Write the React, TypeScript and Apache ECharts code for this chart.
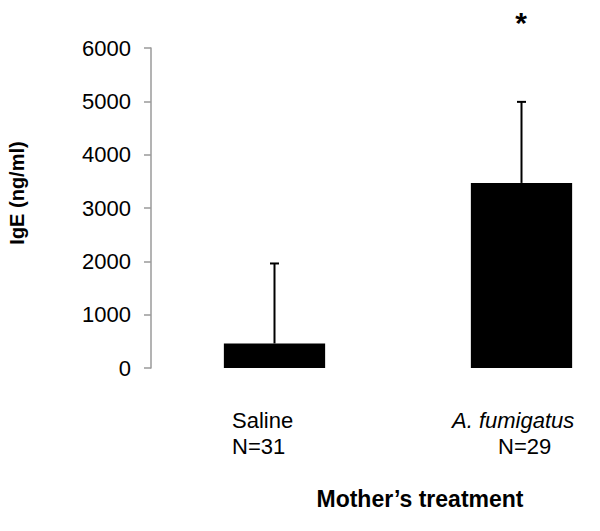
import React, { useEffect, useRef } from "react";
import * as echarts from "echarts";

const categories = ["Saline", "A. fumigatus"];
const groupSizes = ["N=31", "N=29"];
const means = [460, 3470];
const errorTops = [1960, 4990];
const yTicks = [0, 1000, 2000, 3000, 4000, 5000, 6000];
const significance = ["", "*"];

const FONT = "Liberation Sans, Arial, sans-serif";

export default function App() {
  const ref = useRef<HTMLDivElement>(null);
  useEffect(() => {
    if (!ref.current) return;
    const chart = echarts.init(ref.current, null, { renderer: "svg" });
    const errData = categories.map((c, i) => [i, means[i], errorTops[i]]);
    chart.setOption({
      animation: false,
      backgroundColor: "#ffffff",
      grid: {
        left: 151,
        top: 48,
        height: 320,
        width: 494,
        containLabel: false,
        outerBoundsMode: "none",
      },
      xAxis: {
        type: "category",
        data: categories,
        axisLine: { show: false },
        axisTick: { show: false },
        axisLabel: { show: false },
        splitLine: { show: false },
      },
      yAxis: {
        type: "value",
        min: yTicks[0],
        max: yTicks[yTicks.length - 1],
        interval: 1000,
        axisLine: { show: true, lineStyle: { color: "#9a9a9a", width: 1.5 } },
        axisTick: { show: true, length: 7, lineStyle: { color: "#9a9a9a", width: 1.5 } },
        axisLabel: {
          fontSize: 22,
          color: "#000",
          fontFamily: FONT,
          margin: 20,
          formatter: (v: number) => String(v),
        },
        splitLine: { show: false },
      },
      series: [
        {
          type: "bar",
          data: means,
          barWidth: "41%",
          itemStyle: { color: "#000000" },
          z: 2,
        },
        {
          type: "custom",
          data: errData,
          z: 3,
          renderItem: (params: any, api: any) => {
            const x = api.value(0);
            const base = api.coord([x, api.value(1)]);
            const top = api.coord([x, api.value(2)]);
            const half = 4.5;
            return {
              type: "group",
              children: [
                {
                  type: "line",
                  shape: { x1: base[0], y1: base[1], x2: top[0], y2: top[1] },
                  style: { stroke: "#000", lineWidth: 2 },
                },
                {
                  type: "line",
                  shape: { x1: top[0] - half, y1: top[1], x2: top[0] + half, y2: top[1] },
                  style: { stroke: "#000", lineWidth: 2 },
                },
              ],
            };
          },
        },
      ],
      graphic: [
        {
          type: "text",
          left: 232,
          top: 409,
          style: { text: categories[0], fontSize: 22, fontFamily: FONT, fill: "#000" },
        },
        {
          type: "text",
          left: 232,
          top: 435,
          style: { text: groupSizes[0], fontSize: 22, fontFamily: FONT, fill: "#000" },
        },
        {
          type: "text",
          left: 452,
          top: 409,
          style: { text: categories[1], fontSize: 22, fontStyle: "italic", fontFamily: FONT, fill: "#000" },
        },
        {
          type: "text",
          left: 498,
          top: 435,
          style: { text: groupSizes[1], fontSize: 22, fontFamily: FONT, fill: "#000" },
        },
        {
          type: "text",
          x: 420,
          y: 499,
          style: {
            text: "Mother’s treatment",
            fontSize: 23,
            fontWeight: "bold",
            fontFamily: FONT,
            fill: "#000",
            align: "center",
            verticalAlign: "middle",
          },
        },
        {
          type: "text",
          x: 17,
          y: 193,
          rotation: Math.PI / 2,
          style: {
            text: "IgE (ng/ml)",
            fontSize: 20,
            fontWeight: "bold",
            fontFamily: FONT,
            fill: "#000",
            align: "center",
            verticalAlign: "middle",
          },
        },
        {
          type: "text",
          x: 521,
          y: 22,
          style: {
            text: significance[1],
            fontSize: 30,
            fontWeight: "bold",
            fontFamily: FONT,
            fill: "#000",
            align: "center",
            verticalAlign: "middle",
          },
        },
      ],
    });
    return () => chart.dispose();
  }, []);
  return (
    <div
      ref={ref}
      style={{ position: "fixed", left: 0, top: 0, width: 600, height: 531, background: "#fff" }}
    />
  );
}
